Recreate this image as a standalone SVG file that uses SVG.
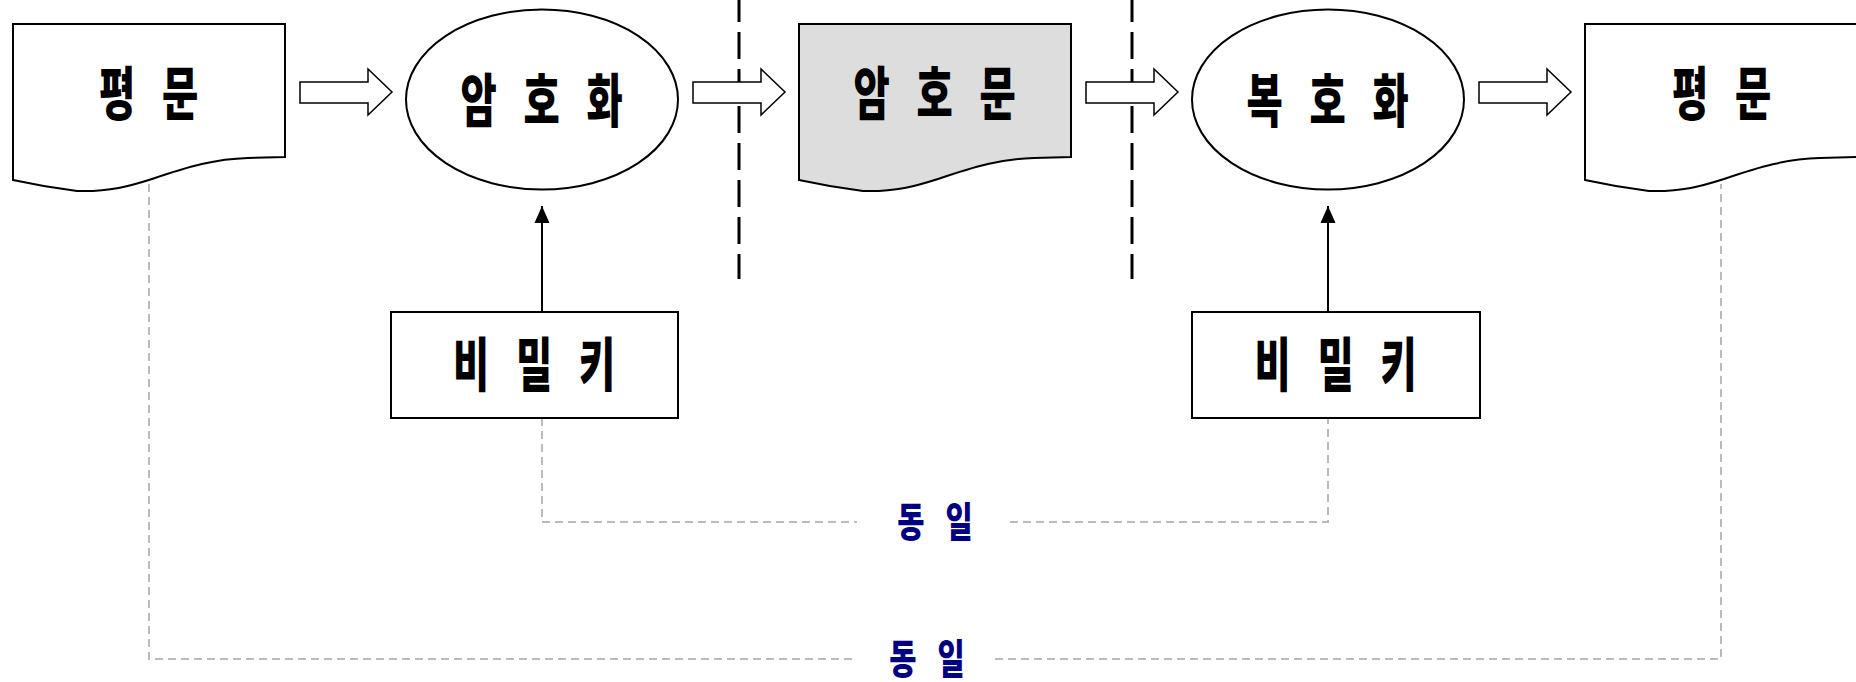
<svg xmlns="http://www.w3.org/2000/svg" xmlns:xlink="http://www.w3.org/1999/xlink" width="1856" height="682" viewBox="0 0 1856 682">
<style>
.shape{fill:#ffffff;stroke:#000000;stroke-width:2}
.doc{stroke:#000000;stroke-width:2;stroke-linejoin:miter}
.lbl{font-family:"Noto Sans CJK KR","Noto Sans",sans-serif;font-weight:900;font-size:58px;fill:#000000;text-anchor:middle;dominant-baseline:central;letter-spacing:13px}
.same{font-family:"Noto Sans CJK KR","Noto Sans",sans-serif;font-weight:900;font-size:41px;fill:#000080;text-anchor:middle;dominant-baseline:central;letter-spacing:10px}
.barrow{fill:#ffffff;stroke:#000000;stroke-width:1.5;stroke-linejoin:miter}
.divider{stroke:#000000;stroke-width:3;stroke-dasharray:27 10;stroke-dashoffset:5;fill:none}
.keyline{stroke:#000000;stroke-width:2;fill:none}
.same-line{stroke:#bbbbbb;stroke-width:2;stroke-dasharray:8 5;fill:none}
</style>
<defs>
<path id="docShape" d="M13,24 H285 V157 L248,158 C215,159 190,166 152,179 C130,186 110,192 77,191 Q45,187 13,180 Z"/>
<polygon id="blockArrow" points="0,0 68,0 68,-13 92,10 68,33 68,21 0,21"/>
<marker id="head" markerUnits="userSpaceOnUse" markerWidth="18" markerHeight="16" refX="17" refY="8" orient="auto" viewBox="0 0 18 16">
<polygon points="0,0.5 17,8 0,15.5" fill="#000000"/>
</marker>
</defs>
<rect x="0" y="0" width="1856" height="682" fill="#ffffff"/>

<g id="connectors">
<line class="divider" x1="739" y1="0" x2="739" y2="279"/>
<line class="divider" x1="1132" y1="0" x2="1132" y2="279"/>
<use xlink:href="#blockArrow" class="barrow" transform="translate(300,82)"/>
<use xlink:href="#blockArrow" class="barrow" transform="translate(693,82)"/>
<use xlink:href="#blockArrow" class="barrow" transform="translate(1086,82)"/>
<use xlink:href="#blockArrow" class="barrow" transform="translate(1479,82)"/>
<path class="keyline" d="M542,311 V206" marker-end="url(#head)"/>
<path class="keyline" d="M1328,311 V206" marker-end="url(#head)"/>
<path class="same-line" d="M542,418 V522 H857"/>
<path class="same-line" d="M1010,522 H1328 V418"/>
<path class="same-line" d="M149,184 V659 H855"/>
<path class="same-line" d="M995,659 H1721 V184"/>
<g transform="translate(935,519) scale(0.72,1)"><text class="same" x="5" y="0">동 일</text></g>
<g transform="translate(927,656) scale(0.72,1)"><text class="same" x="5" y="0">동 일</text></g>
</g>

<g id="plaintext1">
<use xlink:href="#docShape" class="doc" fill="#ffffff"/>
<g transform="translate(149,89) scale(0.68,1)"><text class="lbl" x="6" y="0">평 문</text></g>
</g>

<g id="encrypt">
<ellipse class="shape" cx="542" cy="99.5" rx="136" ry="90"/>
<g transform="translate(542,96) scale(0.68,1)"><text class="lbl" x="6" y="0">암 호 화</text></g>
</g>

<g id="ciphertext">
<use xlink:href="#docShape" class="doc" fill="#dddddd" transform="translate(786,0)"/>
<g transform="translate(935,89) scale(0.68,1)"><text class="lbl" x="6" y="0">암 호 문</text></g>
</g>

<g id="decrypt">
<ellipse class="shape" cx="1328" cy="99.5" rx="136" ry="90"/>
<g transform="translate(1328,96) scale(0.68,1)"><text class="lbl" x="6" y="0">복 호 화</text></g>
</g>

<g id="plaintext2">
<use xlink:href="#docShape" class="doc" fill="#ffffff" transform="translate(1572,0)"/>
<g transform="translate(1722,89) scale(0.68,1)"><text class="lbl" x="6" y="0">평 문</text></g>
</g>

<g id="key1">
<rect class="shape" x="391" y="312" width="287" height="106"/>
<g transform="translate(534.5,360) scale(0.68,1)"><text class="lbl" x="6" y="0">비 밀 키</text></g>
</g>

<g id="key2">
<rect class="shape" x="1192" y="312" width="288" height="106"/>
<g transform="translate(1336,360) scale(0.68,1)"><text class="lbl" x="6" y="0">비 밀 키</text></g>
</g>
</svg>
